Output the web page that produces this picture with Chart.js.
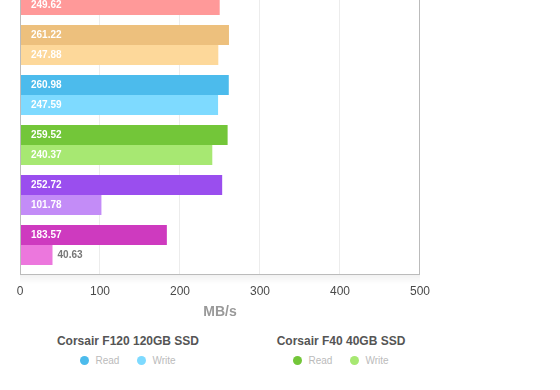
<!DOCTYPE html>
<html lang="en">
<head>
    <meta charset="UTF-8">
    <title>SSD read / write throughput</title>
    <style>
        html, body { margin: 0; padding: 0; background: #fff; overflow: hidden; }
        body { width: 560px; height: 390px; position: relative; font-family: 'Liberation Sans', Arial, sans-serif; }
        #chartBox { position: absolute; left: 0; top: -30px; width: 560px; height: 351px; }
        .legend-col { position: absolute; top: 334px; width: 200px; text-align: center; }
        .legend-title { font-size: 12px; font-weight: bold; color: #555; line-height: 14px; }
        .legend-row { margin-top: 7px; font-size: 10px; color: #bbb; line-height: 12px; }
        .legend-item { display: inline-block; margin: 0 9px; }
        .dot { display: inline-block; width: 9px; height: 9px; border-radius: 50%; vertical-align: -1px; margin-right: 6px; }
    </style>
    <script src="https://cdn.jsdelivr.net/npm/chart.js"></script>
</head>
<body>
    <div id="chartBox"><canvas id="ssdChart"></canvas></div>
    <div id="legend"></div>

    <script>
        // drives, top to bottom (only the last part of the list is in view)
        const drives = ['Drive A', 'Drive B', 'Corsair F120 120GB SSD', 'Corsair F40 40GB SSD', 'Drive E', 'Drive F'];
        const readSpeeds = [265.00, 261.22, 260.98, 259.52, 252.72, 183.57];
        const writeSpeeds = [249.62, 247.88, 247.59, 240.37, 101.78, 40.63];
        const readColors = ['#f77b7b', '#edc07d', '#4cbbec', '#73c639', '#9a4eee', '#ce3abf'];
        const writeColors = ['#ff9999', '#fdd89a', '#7edaff', '#a7e872', '#c38cf7', '#ec77dd'];
        const xTicks = [0, 100, 200, 300, 400, 500];
        const legendDrives = [2, 3];

        // grid + frame, drawn a bit past the bar area like the original
        const framePlugin = {
            id: 'frame',
            beforeDatasetsDraw(chart) {
                const { ctx, chartArea: a, scales } = chart;
                ctx.save();
                // soft shadow under the frame
                const g = ctx.createLinearGradient(0, a.bottom + 4, 0, a.bottom + 14);
                g.addColorStop(0, 'rgba(0,0,0,0.06)');
                g.addColorStop(1, 'rgba(0,0,0,0)');
                ctx.fillStyle = g;
                ctx.fillRect(a.left, a.bottom + 5, a.right - a.left, 10);
                ctx.strokeStyle = '#ececec';
                ctx.lineWidth = 1;
                xTicks.slice(1, -1).forEach(v => {
                    const px = Math.round(scales.x.getPixelForValue(v)) - 0.5;
                    ctx.beginPath();
                    ctx.moveTo(px, a.top - 4);
                    ctx.lineTo(px, a.bottom + 4);
                    ctx.stroke();
                });
                ctx.restore();
            },
            afterDatasetsDraw(chart) {
                const { ctx, chartArea: a } = chart;
                ctx.save();
                ctx.strokeStyle = '#bbbbbb';
                ctx.lineWidth = 1;
                ctx.strokeRect(a.left + 0.5, a.top - 4.5, a.right - a.left - 1, a.bottom - a.top + 9);
                ctx.restore();
            }
        };

        // value labels inside (or just after) each bar
        const valueLabels = {
            id: 'valueLabels',
            afterDatasetsDraw(chart) {
                const ctx = chart.ctx;
                ctx.save();
                ctx.font = 'bold 10px "Liberation Sans", Arial, sans-serif';
                ctx.textBaseline = 'middle';
                chart.data.datasets.forEach((ds, i) => {
                    chart.getDatasetMeta(i).data.forEach((bar, j) => {
                        const p = bar.getProps(['x', 'y', 'base'], true);
                        const text = ds.data[j].toFixed(2);
                        const w = ctx.measureText(text).width;
                        if (p.x - p.base > w + 16) {
                            ctx.fillStyle = '#ffffff';
                            ctx.fillText(text, p.base + 11, p.y + 0.5);
                        } else {
                            ctx.fillStyle = '#777777';
                            ctx.fillText(text, p.x + 5, p.y + 0.5);
                        }
                    });
                });
                ctx.restore();
            }
        };

        Chart.defaults.font.family = "'Liberation Sans', Arial, sans-serif";

        new Chart(document.getElementById('ssdChart'), {
            type: 'bar',
            data: {
                labels: drives,
                datasets: [
                    { label: 'Read', data: readSpeeds, backgroundColor: readColors, borderWidth: 0 },
                    { label: 'Write', data: writeSpeeds, backgroundColor: writeColors, borderWidth: 0 }
                ]
            },
            options: {
                indexAxis: 'y',
                responsive: true,
                maintainAspectRatio: false,
                animation: false,
                layout: { padding: { left: 20, right: 140, top: 0, bottom: 0 } },
                datasets: { bar: { categoryPercentage: 0.8, barPercentage: 1.0 } },
                plugins: { legend: { display: false }, tooltip: { enabled: false } },
                scales: {
                    y: { display: false },
                    x: {
                        min: 0,
                        max: 500,
                        grid: { display: false, drawTicks: false },
                        border: { display: false },
                        afterBuildTicks: axis => { axis.ticks = xTicks.map(v => ({ value: v })); },
                        afterFit: axis => { axis.height = 51; },
                        ticks: { padding: 14, color: '#4a4a4a', font: { size: 12 } },
                        title: {
                            display: true,
                            text: 'MB/s',
                            color: '#999',
                            font: { size: 14, weight: 'bold' },
                            padding: { top: 6, bottom: 0 }
                        }
                    }
                }
            },
            plugins: [framePlugin, valueLabels]
        });

        // HTML legend, one column per drive
        const legendEl = document.getElementById('legend');
        const colLefts = [28, 241];
        legendDrives.forEach((d, k) => {
            const col = document.createElement('div');
            col.className = 'legend-col';
            col.style.left = colLefts[k] + 'px';
            col.innerHTML =
                '<div class="legend-title">' + drives[d] + '</div>' +
                '<div class="legend-row">' +
                '<span class="legend-item"><span class="dot" style="background:' + readColors[d] + '"></span>Read</span>' +
                '<span class="legend-item"><span class="dot" style="background:' + writeColors[d] + '"></span>Write</span>' +
                '</div>';
            legendEl.appendChild(col);
        });
    </script>
</body>
</html>
